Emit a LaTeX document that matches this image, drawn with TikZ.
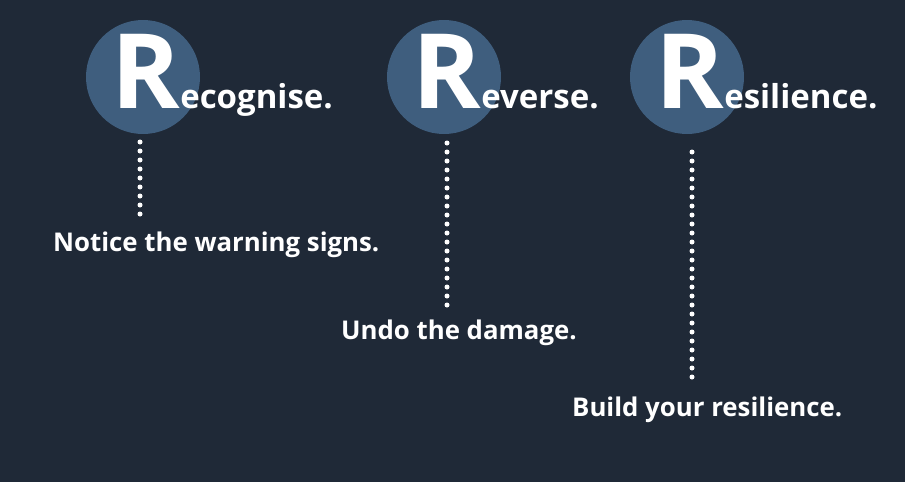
\documentclass[tikz,border=0pt]{standalone}
\usepackage{fontspec}
\setmainfont{Open Sans}
\usetikzlibrary{positioning}
\definecolor{bgnavy}{HTML}{1F2937}
\definecolor{ringblue}{HTML}{3F5E7E}
\tikzset{
  ring/.style={circle,fill=ringblue,minimum size=114pt,inner sep=0pt},
  bigR/.style={text=white,font=\fontsize{104}{104}\selectfont\bfseries,inner sep=0pt,anchor=base west},
  word/.style={text=white,font=\fontsize{33}{33}\selectfont\bfseries,inner sep=0pt,anchor=base west},
  note/.style={text=white,font=\fontsize{25.8}{26}\selectfont\bfseries,inner sep=0pt,anchor=base west},
  dots/.style={white,line width=5pt,line cap=round,dash pattern=on 0pt off 9pt}
}
\begin{document}
\begin{tikzpicture}[x=1pt,y=-1pt]
\fill[bgnavy] (0,0) rectangle (905,482);
\useasboundingbox (0,0) rectangle (905,482);
% circles
\node[ring] (c1) at (143,77) {};
\node[ring] (c2) at (444,77) {};
\node[ring] (c3) at (687,77) {};
% headings
\node[bigR] (r1) at (111,108) {R};
\node[word] (w1) at (r1.base east) {ecognise.};
\node[bigR] (r2) at (412,108) {R};
\node[word] (w2) at (r2.base east) {everse.};
\node[bigR] (r3) at (655,108) {R};
\node[word] (w3) at (r3.base east) {esilience.};
% notes
\node[note] (n1) at (53,251) {Notice the warning signs.};
\node[note] (n2) at (341,339) {Undo the damage.};
\node[note] (n3) at (572,416) {Build your resilience.};
\coordinate (a1) at (140,142); \coordinate (b1) at (140,220);
\coordinate (a2) at (447,143); \coordinate (b2) at (447,312);
\coordinate (a3) at (692,152); \coordinate (b3) at (692,378);
\draw[dots] (a1) -- (b1);
\draw[dots] (a2) -- (b2);
\draw[dots] (a3) -- (b3);
\end{tikzpicture}
\end{document}
